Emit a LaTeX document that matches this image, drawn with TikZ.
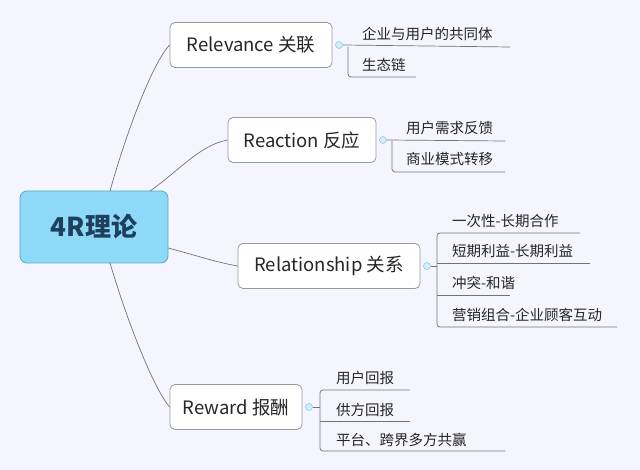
\documentclass[tikz,border=0pt]{standalone}
\usepackage{fontspec}
\setmainfont{Noto Sans CJK SC}
\begin{document}
\begin{tikzpicture}[x=1pt,y=-1pt,
  rootbox/.style={draw=rootline,fill=rootfill,rounded corners=7pt,line width=0.8pt,minimum width=148pt,minimum height=72pt,font=\fontsize{26}{28}\selectfont\bfseries,text=rootText},
  branchbox/.style={draw=gray!80,fill=white,rounded corners=5pt,line width=0.8pt,minimum height=45pt,font=\fontsize{18.5}{20}\selectfont,text=black!85,inner xsep=4pt},
  leaf/.style={anchor=base west,font=\fontsize{14.5}{16}\selectfont,text=black!85,inner sep=0pt},
  link/.style={draw=black!55,line width=0.7pt},
  knob/.style={circle,draw=rootline!70,fill=rootfill!40,minimum size=7pt,inner sep=0pt,line width=0.5pt}]
\definecolor{rootfill}{HTML}{8ED8F8}
\definecolor{rootline}{HTML}{5AA8C8}
\definecolor{rootText}{HTML}{1F3F5F}
\fill[white!96!blue] (0,0) rectangle (640,470);
\useasboundingbox (0,0) rectangle (640,470);
\node[rootbox] (root) at (94,227) {4R理论};
\node[branchbox,minimum width=162pt] (b1) at (251,45) {Relevance 关联};
\node[branchbox,minimum width=148pt] (b2) at (302,140) {Reaction 反应};
\node[branchbox,minimum width=182pt] (b3) at (329,266) {Relationship 关系};
\node[branchbox,minimum width=132pt] (b4) at (236,407) {Reward 报酬};
\coordinate (r1) at (110,191);
\coordinate (r2) at (150,191);
\coordinate (r3) at (168,248);
\coordinate (r4) at (110,263);
\draw[link] (r1) .. controls (130,120) and (155,60) .. (b1.west);
\draw[link] (r2) .. controls (180,170) and (200,145) .. (b2.west);
\draw[link] (r3) .. controls (195,255) and (215,262) .. (b3.west);
\draw[link] (r4) .. controls (130,330) and (155,390) .. (b4.west);
% Relevance leaves
\node[knob] (k1) at (339,45) {};
\node[leaf] (l11) at (362,40) {企业与用户的共同体};
\node[leaf] (l12) at (362,71) {生态链};
\coordinate (e11) at (510,47);
\coordinate (e12) at (416,77);
\draw[link] (k1.east) -- (e11);
\draw[link,rounded corners=3pt] (348,47) |- (e12);
% Reaction leaves
\node[knob] (k2) at (383,140) {};
\node[leaf] (l21) at (406,134) {用户需求反馈};
\node[leaf] (l22) at (406,165) {商业模式转移};
\coordinate (e21) at (505,141);
\coordinate (e22) at (505,172);
\draw[link] (k2.east) -- (e21);
\draw[link,rounded corners=3pt] (392,141) |- (e22);
% Relationship leaves
\node[knob] (k3) at (427,266) {};
\node[leaf] (l31) at (452,227) {一次性-长期合作};
\node[leaf] (l32) at (452,257) {短期利益-长期利益};
\node[leaf] (l33) at (452,289) {冲突-和谐};
\node[leaf] (l34) at (452,320) {营销组合-企业顾客互动};
\coordinate (e31) at (580,233);
\coordinate (e32) at (590,263);
\coordinate (e33) at (510,295);
\coordinate (e34) at (617,327);
\draw[link] (k3.east) -- (437,266);
\draw[link,rounded corners=3pt] (437,240) |- (e31);
\draw[link,rounded corners=3pt] (437,240) |- (e34);
\draw[link] (437,263) -- (e32);
\draw[link] (437,295) -- (e33);
% Reward leaves
\node[knob] (k4) at (309,407) {};
\node[leaf] (l41) at (336,384) {用户回报};
\node[leaf] (l42) at (336,415) {供方回报};
\node[leaf] (l43) at (336,445) {平台、跨界多方共赢};
\coordinate (e41) at (410,390);
\coordinate (e42) at (410,421);
\coordinate (e43) at (505,451);
\draw[link] (k4.east) -- (320,407);
\draw[link,rounded corners=3pt] (320,400) |- (e41);
\draw[link,rounded corners=3pt] (320,400) |- (e43);
\draw[link] (320,421) -- (e42);
\end{tikzpicture}
\end{document}
